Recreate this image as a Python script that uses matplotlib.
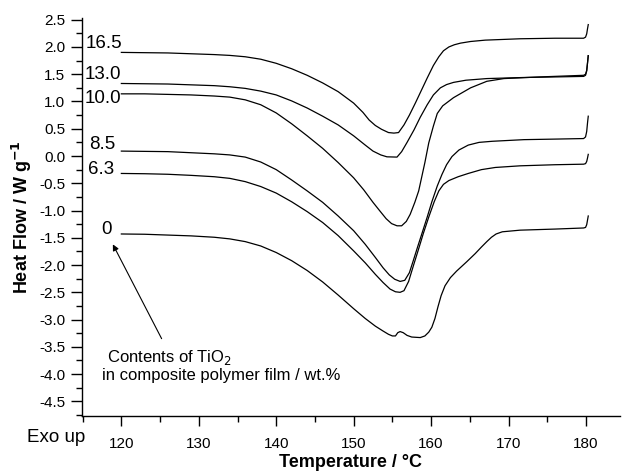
import matplotlib
matplotlib.use("Agg")
import matplotlib.pyplot as plt
from matplotlib.ticker import MultipleLocator, FuncFormatter

plt.rcParams['font.family'] = ['Liberation Sans', 'DejaVu Sans']
plt.rcParams['axes.unicode_minus'] = False

# ---- data ----
labels = ["16.5", "13.0", "10.0", "8.5", "6.3", "0"]

t_165 = [120, 123, 126, 129, 132, 134, 136, 138, 140, 142, 144, 146, 148, 150, 151.2, 152, 152.8,
         153.6, 154.5, 155.2, 155.8, 156.5, 157.2, 158, 158.8, 159.5, 160.3, 161.0, 161.6, 162.3,
         163, 163.8, 165.1, 167, 171.5, 176, 179.7, 179.95, 180.1, 180.2, 180.3]
y_165 = [1.90, 1.895, 1.89, 1.875, 1.86, 1.845, 1.82, 1.775, 1.70, 1.60, 1.48, 1.34, 1.18, 0.97, 0.80, 0.66, 0.56,
         0.49, 0.43, 0.42, 0.43, 0.57, 0.75, 0.98, 1.22, 1.43, 1.66, 1.82, 1.93, 2.00,
         2.04, 2.07, 2.10, 2.125, 2.15, 2.16, 2.16, 2.18, 2.24, 2.33, 2.41]

t_130 = [120, 123, 126, 129, 132, 134, 136, 138, 140, 142, 144, 146, 148, 150, 151.5, 152.5, 153.5,
         154.3, 155.6, 156.2, 156.9, 157.8, 158.6, 159.5, 160.3, 161.2, 162.0, 162.9, 164.5, 167.2,
         172, 176, 179.7, 179.95, 180.1, 180.2, 180.3]
y_130 = [1.33, 1.325, 1.32, 1.305, 1.29, 1.27, 1.24, 1.19, 1.12, 1.01, 0.88, 0.73, 0.57, 0.37, 0.20, 0.09, 0.02,
         -0.015, -0.02, 0.08, 0.25, 0.48, 0.71, 0.94, 1.12, 1.25, 1.31, 1.35, 1.39, 1.42,
         1.44, 1.45, 1.46, 1.48, 1.56, 1.70, 1.84]

t_100 = [120, 123, 126, 129, 132, 134, 136, 138, 140, 142, 144, 146, 148, 150, 151.3, 152.5, 153.4,
         154.2, 154.9, 155.6, 156.2, 156.8, 157.3, 157.9, 158.4, 159.2, 159.7, 160.3, 160.8, 161.5,
         162.9, 165.1, 167.2, 169.4, 174, 179.7, 179.95, 180.1, 180.2, 180.3]
y_100 = [1.14, 1.14, 1.13, 1.12, 1.10, 1.08, 1.03, 0.94, 0.79, 0.59, 0.37, 0.14, -0.12, -0.40, -0.62, -0.85, -1.01,
         -1.15, -1.24, -1.28, -1.28, -1.20, -1.07, -0.85, -0.64, -0.12, 0.24, 0.55, 0.78, 0.92,
         1.07, 1.25, 1.37, 1.42, 1.45, 1.48, 1.50, 1.57, 1.70, 1.84]

t_85 = [120, 123, 126, 129, 132, 134, 136, 138, 140, 142, 144, 146, 148, 150, 151.5, 152.8, 153.8,
        154.6, 155.3, 156.0, 156.6, 157.2, 157.7, 158.3, 158.8, 159.5, 160.1, 160.8, 161.4, 162.0,
        162.7, 163.6, 164.8, 166.2, 167.9, 172, 176, 179.7, 179.95, 180.1, 180.2, 180.3]
y_85 = [0.09, 0.085, 0.08, 0.06, 0.04, 0.02, -0.02, -0.11, -0.25, -0.44, -0.64, -0.85, -1.10, -1.37, -1.62, -1.86, -2.05,
        -2.18, -2.26, -2.30, -2.28, -2.14, -1.92, -1.65, -1.43, -1.12, -0.84, -0.55, -0.34, -0.16,
        -0.01, 0.11, 0.20, 0.25, 0.27, 0.30, 0.31, 0.32, 0.35, 0.45, 0.60, 0.73]

t_63 = [120, 123, 126, 129, 132, 134, 136, 138, 140, 142, 144, 146, 148, 150, 151.5, 152.8, 153.8,
        154.7, 155.4, 156.0, 156.5, 157.1, 157.7, 158.4, 159.0, 159.7, 160.4, 161.0, 161.6, 162.3,
        163.5, 164.8, 166.5, 168.3, 171.5, 176, 179.7, 179.95, 180.1, 180.2, 180.3]
y_63 = [-0.32, -0.325, -0.335, -0.355, -0.38, -0.41, -0.47, -0.56, -0.68, -0.84, -1.02, -1.22, -1.46, -1.74, -1.96, -2.17, -2.32,
        -2.44, -2.49, -2.50, -2.47, -2.30, -2.02, -1.70, -1.42, -1.12, -0.84, -0.64, -0.52, -0.45,
        -0.38, -0.32, -0.25, -0.21, -0.18, -0.16, -0.15, -0.14, -0.10, -0.04, 0.03]

t_0 = [120, 123, 126, 129, 132, 134, 136, 138, 140, 142, 144, 146, 148, 150, 151.5, 152.8, 153.8,
       154.5, 155.0, 155.4, 155.7, 156.0, 156.4, 156.9, 157.5, 158.6, 159.2, 159.7, 160.1, 160.5,
       160.9, 161.3, 161.8, 162.5, 163.3, 164.6, 165.7, 166.5, 167.2, 167.8, 168.4, 169.2, 171.5,
       176, 179.7, 179.95, 180.1, 180.2, 180.3]
y_0 = [-1.43, -1.435, -1.45, -1.465, -1.49, -1.52, -1.57, -1.65, -1.77, -1.92, -2.10, -2.31, -2.55, -2.80, -2.98, -3.12, -3.21,
       -3.27, -3.30, -3.30, -3.24, -3.22, -3.24, -3.29, -3.32, -3.33, -3.30, -3.23, -3.14, -2.98,
       -2.76, -2.56, -2.38, -2.23, -2.11, -1.94, -1.79, -1.67, -1.57, -1.49, -1.43, -1.39, -1.36,
       -1.34, -1.32, -1.31, -1.26, -1.18, -1.10]

series_t = [t_165, t_130, t_100, t_85, t_63, t_0]
series_y = [y_165, y_130, y_100, y_85, y_63, y_0]

x_major = [120, 130, 140, 150, 160, 170, 180]

# label anchor positions (left edge x, centre y) in data coords
label_pos = [(115.4, 2.06), (115.3, 1.50), (115.3, 1.06), (115.8, 0.22), (115.7, -0.24), (117.4, -1.35)]

# ---- figure ----
fig = plt.figure(figsize=(6.25, 4.75), dpi=100)
ax = fig.add_axes([0.131, 0.124, 0.861, 0.838])

for t, y in zip(series_t, series_y):
    ax.plot(t, y, color='black', lw=0.9)

for lab, (lx, ly) in zip(labels, label_pos):
    ax.text(lx, ly, lab, fontsize=13.5, ha='left', va='center')

ax.set_xlim(114.9, 184.4)
ax.set_ylim(-4.77, 2.53)

ax.set_xticks(x_major)
ax.xaxis.set_minor_locator(MultipleLocator(5))
ax.yaxis.set_major_locator(MultipleLocator(0.5))
ax.yaxis.set_minor_locator(MultipleLocator(0.25))
ax.yaxis.set_major_formatter(FuncFormatter(lambda v, p: f"{v:.1f}".replace("-0.0", "0.0")))

for s in ['top', 'right']:
    ax.spines[s].set_visible(False)
for s in ['left', 'bottom']:
    ax.spines[s].set_linewidth(1.0)

ax.tick_params(axis='x', which='major', direction='out', length=7, width=1, labelsize=11, pad=8)
ax.tick_params(axis='x', which='minor', direction='out', length=4, width=1)
ax.tick_params(axis='y', which='major', direction='out', length=8, width=1, labelsize=11, pad=4)
ax.tick_params(axis='y', which='minor', direction='out', length=4, width=1)

ax.set_xlabel("Temperature / \u00b0C", fontsize=13, fontweight='bold', labelpad=2)
ax.set_ylabel("Heat Flow / W g$^{\\mathbf{-1}}$", fontsize=13, fontweight='bold', labelpad=4)

fig.text(27 / 625, 1 - 437 / 475, "Exo up", fontsize=13.5, ha='left', va='center')

ax.annotate("", xy=(118.9, -1.62), xytext=(125.2, -3.35),
            arrowprops=dict(arrowstyle='-|>', color='black', lw=0.8, mutation_scale=9,
                            shrinkA=0, shrinkB=0))
ax.text(118.2, -3.69, "Contents of TiO$_2$", fontsize=12, ha='left', va='center')
ax.text(117.5, -4.03, "in composite polymer film / wt.%", fontsize=12, ha='left', va='center')

fig.savefig("out.png", dpi=100)
